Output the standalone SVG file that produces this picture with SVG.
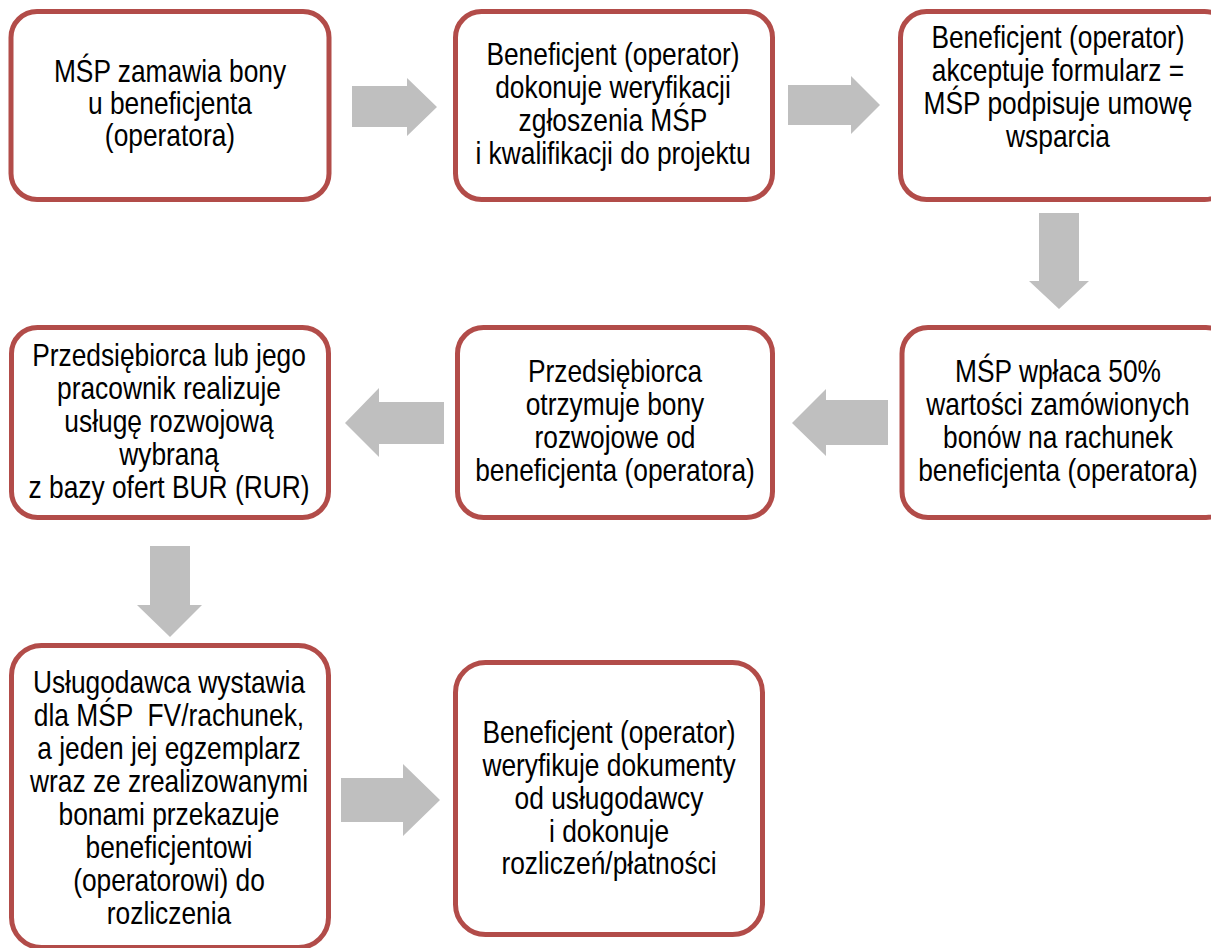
<svg xmlns="http://www.w3.org/2000/svg" width="1211" height="948" viewBox="0 0 1211 948">
<style>
.box{fill:#ffffff;stroke:#b24c49;stroke-width:5}
.arr{fill:#bfbfbf;stroke:none}
text{font-family:"Liberation Sans",Arial,sans-serif;font-size:31px;fill:#000;text-anchor:middle}
</style>
<rect width="1211" height="948" fill="#ffffff"/>
<g id="connectors">
<polygon class="arr" points="352,86 407,86 407,78 437,107 407,136 407,127 352,127"/>
<polygon class="arr" points="788,85 851,85 851,76 880,105 851,134 851,125 788,125"/>
<polygon class="arr" points="1039,213 1079,213 1079,281 1089,281 1059,309 1029,281 1039,281"/>
<polygon class="arr" points="888,400 826,400 826,389 792,423 826,456 826,445 888,445"/>
<polygon class="arr" points="444,402 379,402 379,388 345,423 379,457 379,444 444,444"/>
<polygon class="arr" points="150,546 190,546 190,605 202,605 170,637 137,605 150,605"/>
<polygon class="arr" points="341,778 403,778 403,764 440,800 403,836 403,822 341,822"/>
</g>
<g id="n1">
<rect class="box" x="11" y="11.5" width="318" height="188" rx="26"/>
<g transform="translate(170 0) scale(0.85 1)">
<text x="0" y="82">MŚP zamawia bony</text>
<text x="0" y="114">u beneficjenta</text>
<text x="0" y="146">(operatora)</text>
</g>
</g>
<g id="n2">
<rect class="box" x="455.5" y="11.5" width="317" height="188" rx="26"/>
<g transform="translate(613 0) scale(0.85 1)">
<text x="0" y="65">Beneficjent (operator)</text>
<text x="0" y="98">dokonuje weryfikacji</text>
<text x="0" y="131">zgłoszenia MŚP</text>
<text x="0" y="164">i kwalifikacji do projektu</text>
</g>
</g>
<g id="n3">
<rect class="box" x="900.5" y="11.5" width="330" height="188" rx="26"/>
<g transform="translate(1058 0) scale(0.85 1)">
<text x="0" y="48">Beneficjent (operator)</text>
<text x="0" y="81">akceptuje formularz =</text>
<text x="0" y="114">MŚP podpisuje umowę</text>
<text x="0" y="147">wsparcia</text>
</g>
</g>
<g id="n4">
<rect class="box" x="902" y="327.5" width="330" height="190" rx="26"/>
<g transform="translate(1058 0) scale(0.85 1)">
<text x="0" y="382">MŚP wpłaca 50%</text>
<text x="0" y="415">wartości zamówionych</text>
<text x="0" y="448">bonów na rachunek</text>
<text x="0" y="481">beneficjenta (operatora)</text>
</g>
</g>
<g id="n5">
<rect class="box" x="457.5" y="327.5" width="315" height="190" rx="26"/>
<g transform="translate(615 0) scale(0.85 1)">
<text x="0" y="382">Przedsiębiorca</text>
<text x="0" y="415">otrzymuje bony</text>
<text x="0" y="448">rozwojowe od</text>
<text x="0" y="481">beneficjenta (operatora)</text>
</g>
</g>
<g id="n6">
<rect class="box" x="11.5" y="327.5" width="317" height="190" rx="26"/>
<g transform="translate(169 0) scale(0.85 1)">
<text x="0" y="366">Przedsiębiorca lub jego</text>
<text x="0" y="399">pracownik realizuje</text>
<text x="0" y="432">usługę rozwojową</text>
<text x="0" y="465">wybraną</text>
<text x="0" y="498">z bazy ofert BUR (RUR)</text>
</g>
</g>
<g id="n7">
<rect class="box" x="11.5" y="645.5" width="317" height="302" rx="30"/>
<g transform="translate(169 0) scale(0.85 1)">
<text x="0" y="693">Usługodawca wystawia</text>
<text x="0" y="726" xml:space="preserve">dla MŚP  FV/rachunek,</text>
<text x="0" y="759">a jeden jej egzemplarz</text>
<text x="0" y="792">wraz ze zrealizowanymi</text>
<text x="0" y="825">bonami przekazuje</text>
<text x="0" y="858">beneficjentowi</text>
<text x="0" y="891">(operatorowi) do</text>
<text x="0" y="924">rozliczenia</text>
</g>
</g>
<g id="n8">
<rect class="box" x="455.5" y="662.5" width="307" height="272" rx="30"/>
<g transform="translate(609 0) scale(0.85 1)">
<text x="0" y="743">Beneficjent (operator)</text>
<text x="0" y="776">weryfikuje dokumenty</text>
<text x="0" y="809">od usługodawcy</text>
<text x="0" y="842">i dokonuje</text>
<text x="0" y="874">rozliczeń/płatności</text>
</g>
</g>
</svg>
